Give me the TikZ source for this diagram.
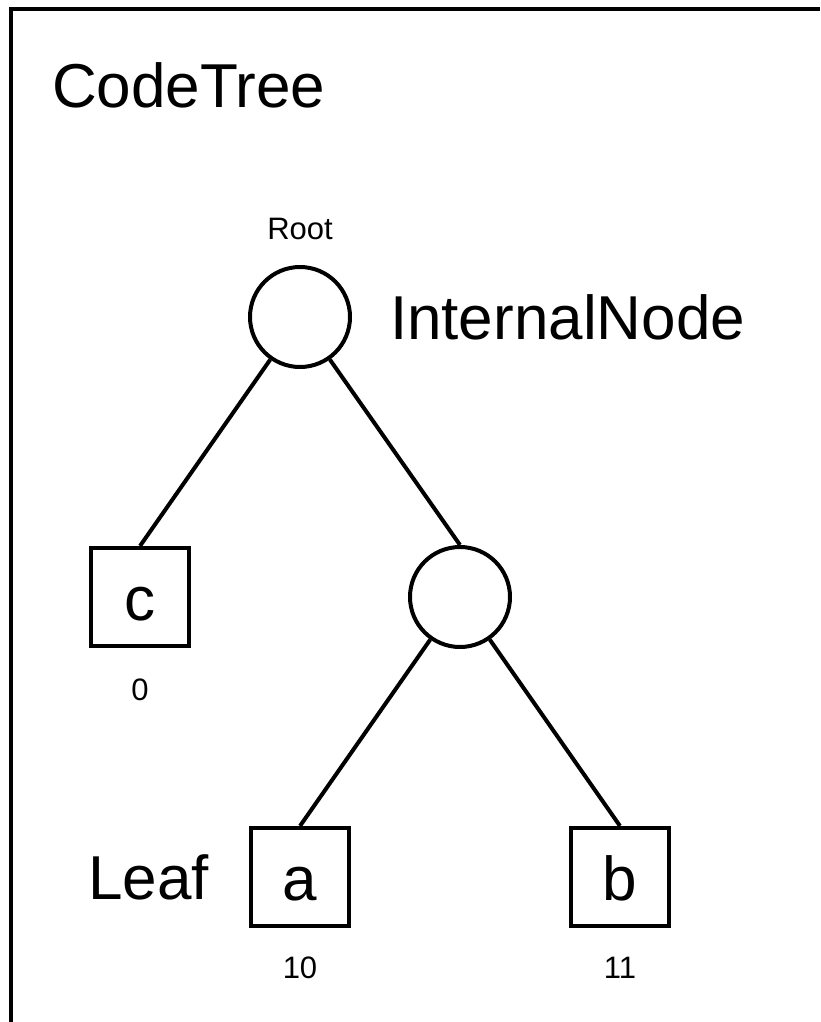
\documentclass[tikz,border=0pt]{standalone}
\usepackage{fontspec}
\setmainfont{Liberation Sans}
\usepackage{tikz}
\usetikzlibrary{positioning}

\begin{document}
\begin{tikzpicture}[x=1pt,y=1pt,line width=4pt,
  level distance=280pt,sibling distance=320pt,child anchor=north,
  inode/.style={draw,circle,minimum size=100pt,inner sep=0pt},
  leaf/.style={draw,rectangle,minimum size=98pt,inner sep=0pt,
    text height=49pt,text depth=3pt,font=\fontsize{62}{62}\selectfont},
  big/.style={inner sep=0pt,outer sep=0pt,font=\fontsize{62}{62}\selectfont},
  small/.style={inner sep=0pt,outer sep=0pt,font=\fontsize{31}{31}\selectfont}]
  \useasboundingbox (0,0) rectangle (820,-1022);
  \draw (11,-1022) |- (820,-9);
  \node[big,anchor=base west] (title) at (52,-108) {CodeTree};
  \node[inode,label={[small,label distance=25pt]above:Root},
        label={[big,label distance=38pt]right:InternalNode}] (root) at (300,-317) {}
    child { node[leaf,label={[small,label distance=31pt]below:0}] (c) {c} }
    child { node[inode] (mid) {}
      child { node[leaf,label={[small,label distance=29pt]below:10},
                  label={[big,label distance=40pt]left:Leaf}] (a) {a} }
      child { node[leaf,label={[small,label distance=29pt]below:11}] (b) {b} }
    };
\end{tikzpicture}
\end{document}
